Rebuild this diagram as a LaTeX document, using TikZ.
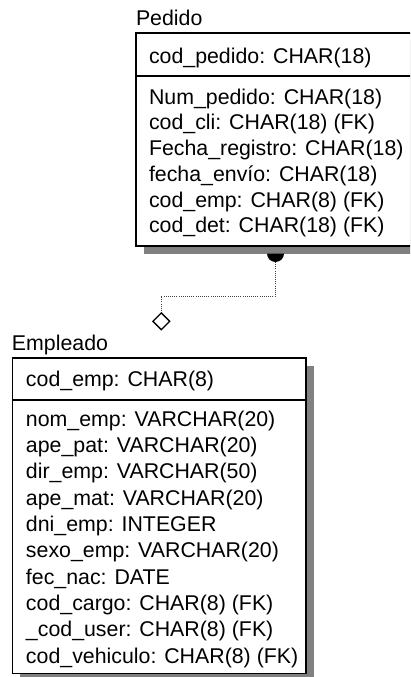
\documentclass[tikz,border=0pt]{standalone}
\usepackage{fontspec}
\setmainfont{Liberation Sans}
\usetikzlibrary{shapes.geometric}

\tikzset{every picture/.style={line width=0.75pt}}
\tikzset{
  entidad/.style={draw=black, fill=white, line width=1pt, inner sep=0pt},
  sombra/.style={fill=black!50, draw=none},
  atributo/.style={anchor=base west, inner sep=0pt, font=\fontsize{16}{19}\selectfont},
  relacion/.style={draw=black!75, densely dotted, line width=0.6pt},
  rombo/.style={diamond, draw=black, fill=white, line width=1pt, inner sep=0pt, minimum width=13pt, minimum height=13pt}
}

\begin{document}
\begin{tikzpicture}[x=0.75pt,y=0.75pt,yscale=-1,xscale=1]
\useasboundingbox (0,0) rectangle (410,677);
\clip (0,0) rectangle (410,677);

%Shape: Shadow [Pedido]
\fill [sombra] (143.5,40.5) rectangle (422.5,253.5);
%Shape: Entity [Pedido]
\node [entidad, minimum width=209.25pt, minimum height=159.75pt] (pedido) at (275.5,139.5) {};
\coordinate (sepPedido) at (0,76);
\draw [line width=1pt] (pedido.west |- sepPedido) -- (pedido.east |- sepPedido);

%Shape: Shadow [Empleado]
\fill [sombra] (20.2,365.5) rectangle (313.5,681);
%Shape: Entity [Empleado]
\node [entidad, minimum width=220pt, minimum height=236.6pt] (empleado) at (159.35,515.75) {};
\coordinate (sepEmpleado) at (0,400);
\draw [line width=1pt] (empleado.west |- sepEmpleado) -- (empleado.east |- sepEmpleado);

%Relationship Pedido -- Empleado
\node [rombo] (rombo) at (161.3,321.3) {};
\coordinate (uno) at (275.5,253.5);
\draw [relacion] (uno) -- ++(0,42.5) -| (rombo.north);
\fill (uno) ++(8.5,0) arc (0:180:8.5) -- cycle;

% Text Node
\node [atributo] (tPedido) at (135.5,26) {Pedido};
% Text Node
\node [atributo] (pkPedido) at (148.5,63.3) {cod\_pedido: CHAR(18)};
% Text Node
\node [atributo] (numPedido) at (148.5,104.3) {Num\_pedido: CHAR(18)};
% Text Node
\node [atributo] (codCli) at (148.5,130) {cod\_cli: CHAR(18) (FK)};
% Text Node
\node [atributo] (fechaReg) at (148.5,155.7) {Fecha\_registro: CHAR(18)};
% Text Node
\node [atributo] (fechaEnv) at (148.5,181.4) {fecha\_envío: CHAR(18)};
% Text Node
\node [atributo] (codEmpP) at (148.5,207.1) {cod\_emp: CHAR(8) (FK)};
% Text Node
\node [atributo] (codDet) at (148.5,232.8) {cod\_det: CHAR(18) (FK)};

% Text Node
\node [atributo] (tEmpleado) at (11.5,350) {Empleado};
% Text Node
\node [atributo] (pkEmpleado) at (25.5,386.7) {cod\_emp: CHAR(8)};
% Text Node
\node [atributo] (nomEmp) at (25.5,426) {nom\_emp: VARCHAR(20)};
% Text Node
\node [atributo] (apePat) at (25.5,452.3) {ape\_pat: VARCHAR(20)};
% Text Node
\node [atributo] (dirEmp) at (25.5,478.7) {dir\_emp: VARCHAR(50)};
% Text Node
\node [atributo] (apeMat) at (25.5,505) {ape\_mat: VARCHAR(20)};
% Text Node
\node [atributo] (dniEmp) at (25.5,531.3) {dni\_emp: INTEGER};
% Text Node
\node [atributo] (sexoEmp) at (25.5,557.7) {sexo\_emp: VARCHAR(20)};
% Text Node
\node [atributo] (fecNac) at (25.5,584) {fec\_nac: DATE};
% Text Node
\node [atributo] (codCargo) at (25.5,610.3) {cod\_cargo: CHAR(8) (FK)};
% Text Node
\node [atributo] (codUser) at (25.5,636.7) {\_cod\_user: CHAR(8) (FK)};
% Text Node
\node [atributo] (codVeh) at (25.5,663) {cod\_vehiculo: CHAR(8) (FK)};

\end{tikzpicture}
\end{document}
